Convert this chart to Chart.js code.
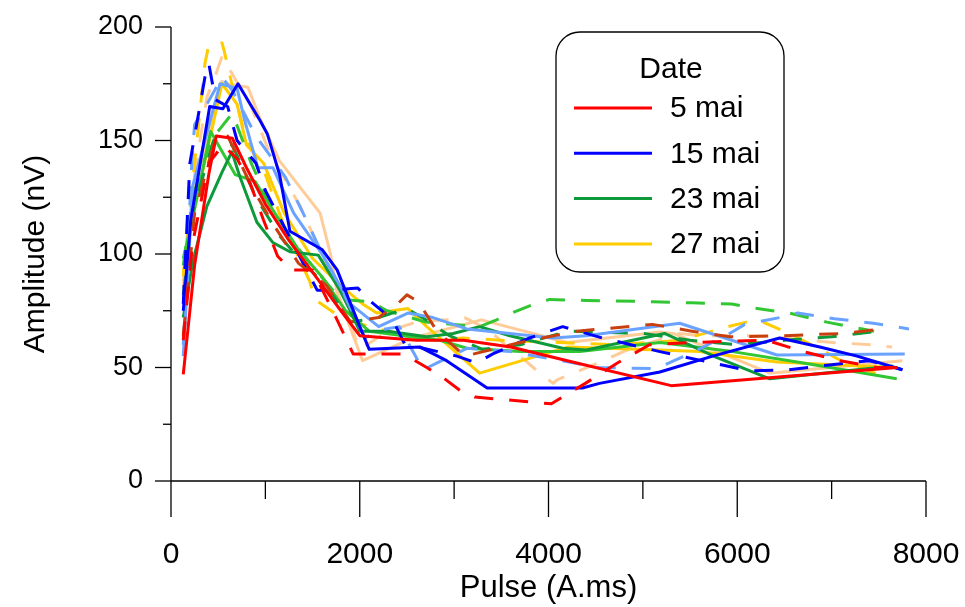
<!DOCTYPE html>
<html><head><meta charset="utf-8">
<script src="https://cdn.jsdelivr.net/npm/chart.js@4.4.1/dist/chart.umd.min.js"></script>
<style>html,body{margin:0;padding:0;background:#fff;overflow:hidden}#wrap{width:965px;height:607px;position:relative}</style>
</head><body><div id="wrap"><canvas id="c" width="965" height="607"></canvas></div>
<script>
// ---- tick labels ----
const xTickLabels = [0, 2000, 4000, 6000, 8000];
const xMinorTicks = [1000, 3000, 5000, 7000];
const yTickLabels = [0, 50, 100, 150, 200];
const yMinorTicks = [25, 75, 125, 175];

// ---- legend ----
const legendTitle = 'Date';
const dates = ['5 mai', '15 mai', '23 mai', '27 mai'];

// ---- 5 mai ----
const redSolidX = [130, 250, 400, 480, 650, 800, 1000, 1250, 1500, 1800, 2000, 2600, 3100, 3600, 4200, 5300, 6500, 7700];
const redSolidY = [47, 95, 135, 152, 151, 138, 122, 106, 92, 75, 64, 62, 62, 59, 53, 42, 46, 50];
const redDashX = [130, 230, 400, 550, 700, 840, 980, 1130, 1270, 1500, 1760, 1930, 2460, 2710, 2900, 3060, 3220, 4030, 4390, 4730, 5070, 5500, 6310, 6700, 7090, 7480, 7800];
const redDashY = [62, 105, 140, 148, 142, 131, 115, 99, 93, 93, 71, 56, 56, 50, 45, 40, 37, 34, 43, 52, 60, 61, 62, 57, 53, 50, 50];
const brownDashX = [130, 250, 450, 600, 850, 1100, 1350, 1650, 1900, 2200, 2400, 2500, 2620, 2818, 3114, 3400, 3697, 4300, 5100, 5520, 5920, 6500, 7120, 7530];
const brownDashY = [64, 118, 148, 152, 130, 112, 96, 86, 70, 72, 78, 82, 79, 66, 55, 58, 61, 66, 69, 66, 63.5, 64, 65, 67];

// ---- 15 mai ----
const blueSolidX = [130, 210, 410, 550, 710, 940, 1020, 1150, 1260, 1600, 1760, 1875, 2020, 2100, 2640, 2920, 3350, 4360, 4540, 5180, 5740, 6450, 6875, 7270, 7750];
const blueSolidY = [75, 115, 165, 164, 175, 159, 153, 135, 110, 102, 93, 81, 66, 58, 59, 53, 41, 41, 43, 48, 55, 63, 59, 55, 49];
const blueDashX = [130, 200, 360, 400, 470, 600, 700, 800, 900, 1000, 1200, 1400, 1550, 1680, 1980, 2090, 2350, 2480, 2620, 3030, 3240, 3410, 3800, 4150, 4570, 5180, 5740, 6130, 6540, 6950, 7400, 7750];
const blueDashY = [78, 140, 178, 184, 168, 165, 150, 145, 140, 128, 112, 96, 84, 84, 85, 80, 71, 60, 59, 55, 52, 56, 63, 68, 63, 57, 52, 48.5, 49, 51, 53, 49];
const lightBlueSolidX = [130, 230, 520, 700, 780, 860, 920, 1080, 1300, 1600, 1900, 2200, 2510, 2775, 3135, 4045, 4400, 5390, 6420, 7775];
const lightBlueSolidY = [55, 130, 175, 173, 159, 147, 138, 138, 118, 100, 78, 68, 74, 72, 67, 63, 64, 69.5, 55.5, 56];
const lightBlueDashX = [130, 220, 250, 340, 435, 540, 650, 900, 1210, 1400, 1580, 1800, 2055, 2215, 2420, 2670, 2820, 2990, 3140, 3600, 4270, 4530, 5140, 5520, 5920, 6080, 6450, 6640, 7030, 7440, 7820];
const lightBlueDashY = [60, 140, 157, 163, 170, 178, 172, 152, 134, 118, 102, 85, 63, 66.5, 68, 49, 52, 55.5, 58.5, 57, 52, 50, 49.5, 56.5, 65, 69, 72, 74, 71.5, 69.5, 67];

// ---- 23 mai ----
const darkGreenSolidX = [130, 233, 380, 540, 645, 730, 910, 1080, 1260, 1560, 1790, 1900, 2000, 2300, 2710, 2990, 3270, 3590, 4150, 4400, 5230, 5780, 6345, 7650];
const darkGreenSolidY = [72, 97, 121, 136, 145, 134, 114, 105, 101, 99.5, 84, 75, 66, 66, 63.5, 65, 68, 64, 58.5, 57.7, 65, 54.5, 45, 50.7];
const darkGreenDashX = [130, 240, 450, 650, 900, 1150, 1400, 1650, 1900, 2200, 2500, 2700, 2950, 3300, 3700, 4200, 5000, 5500, 6000, 6500, 7000, 7500];
const darkGreenDashY = [82, 120, 150, 148, 125, 108, 96, 86, 70, 72, 76, 71, 64, 58, 60, 66, 65, 62, 60, 62, 63.5, 66];
const lightGreenSolidX = [130, 250, 420, 680, 890, 1100, 1350, 1600, 1850, 2100, 2640, 2850, 3135, 3700, 4330, 5180, 5950, 6700, 7690];
const lightGreenSolidY = [98, 120, 154, 135, 132, 118, 102, 90, 75, 66, 63, 62, 58.5, 57, 57, 61, 57, 52, 45];
const lightGreenDashX = [130, 230, 420, 650, 850, 1050, 1300, 1550, 1800, 2110, 2290, 2700, 3270, 3450, 3640, 3820, 4010, 4400, 5100, 5520, 5940, 6130, 6550, 6950, 7450];
const lightGreenDashY = [95, 125, 150, 162, 140, 122, 105, 92, 80, 79, 75, 70, 68, 71, 74.5, 77.5, 80, 79.5, 79, 78.5, 78, 76.5, 74, 70, 66];

// ---- 27 mai ----
const goldSolidX = [130, 250, 540, 700, 800, 980, 1200, 1500, 1800, 2030, 2180, 2510, 2710, 3270, 4200, 5180, 5600, 6420, 7650];
const goldSolidY = [92, 120, 175, 166, 148, 140, 118, 98, 86, 78, 74, 76, 68, 47.5, 59, 57.7, 57, 52.4, 50];
const goldDashX = [130, 250, 360, 400, 540, 560, 650, 800, 1000, 1200, 1470, 1525, 1800, 2100, 2500, 2800, 3090, 3500, 4120, 4700, 5400, 5900, 6100, 6270, 6470, 6840, 7100, 7510];
const goldDashY = [90, 140, 184, 192, 193, 190, 174, 150, 135, 112, 88, 80, 72, 68, 64, 62, 63, 62, 61, 60, 62, 68, 70, 70, 66.5, 59, 53, 46.7];
const peachSolidX = [130, 250, 540, 590, 815, 940, 1150, 1580, 1690, 1760, 2030, 2560, 3290, 3560, 4200, 5180, 5320, 6345, 7750];
const peachSolidY = [85, 130, 176, 175, 173.5, 160, 141, 118, 100, 83, 53, 63, 71, 68, 61, 65.6, 65, 47.5, 53];
const peachDashX = [130, 250, 380, 465, 540, 625, 850, 1050, 1370, 1650, 2000, 2300, 2600, 2920, 3110, 3300, 3450, 3590, 3770, 3930, 4050, 4090, 4260, 4470, 4830, 5390, 5600, 6200, 6400, 7010, 7430, 7640];
const peachDashY = [88, 135, 169, 178, 187, 181, 165, 144, 121, 95, 58, 66, 70, 71, 72, 68, 63.5, 58, 52.5, 46.7, 43, 44.5, 47.5, 51, 57.7, 65, 64, 64, 63.4, 61, 60, 59];

// ---- styles ----
const C = {red:'#FF0000', brown:'#C8400F', blue:'#0000FF', lightBlue:'#6AA3FF', darkGreen:'#0E9A3A', lightGreen:'#33C633', gold:'#FFCC00', peach:'#FFCC99'};
const legendColors = [C.red, C.blue, C.darkGreen, C.gold];
const DASH = [19, 16];
const FONT = '"Liberation Sans", Arial, sans-serif';

function series(xs, ys, color, dashed) {
  return {
    data: xs.map((v, i) => ({x: v, y: ys[i]})),
    borderColor: color, backgroundColor: color,
    borderWidth: 3, borderDash: dashed ? DASH : [],
    pointRadius: 0, fill: false, tension: 0,
    borderCapStyle: 'butt', borderJoinStyle: 'round'
  };
}

const datasets = [
  series(redSolidX, redSolidY, C.red, false),
  series(redDashX, redDashY, C.red, true),
  series(brownDashX, brownDashY, C.brown, true),
  series(blueSolidX, blueSolidY, C.blue, false),
  series(blueDashX, blueDashY, C.blue, true),
  series(lightBlueSolidX, lightBlueSolidY, C.lightBlue, false),
  series(lightBlueDashX, lightBlueDashY, C.lightBlue, true),
  series(darkGreenSolidX, darkGreenSolidY, C.darkGreen, false),
  series(darkGreenDashX, darkGreenDashY, C.darkGreen, true),
  series(lightGreenSolidX, lightGreenSolidY, C.lightGreen, false),
  series(lightGreenDashX, lightGreenDashY, C.lightGreen, true),
  series(goldSolidX, goldSolidY, C.gold, false),
  series(goldDashX, goldDashY, C.gold, true),
  series(peachSolidX, peachSolidY, C.peach, false),
  series(peachDashX, peachDashY, C.peach, true)
];

// R-style axes: lines + major/minor tick marks, positioned by the scales
const rAxes = {
  id: 'rAxes',
  beforeDatasetsDraw(chart) {
    const {ctx, scales: {x, y}} = chart;
    const x0 = x.getPixelForValue(xTickLabels[0]);
    const x1 = x.getPixelForValue(xTickLabels[xTickLabels.length - 1]);
    const y0 = y.getPixelForValue(yTickLabels[0]);
    const y1 = y.getPixelForValue(yTickLabels[yTickLabels.length - 1]);
    ctx.save();
    ctx.strokeStyle = '#000';
    ctx.lineWidth = 1.3;
    const ln = (a, b, c, d) => { ctx.beginPath(); ctx.moveTo(a, b); ctx.lineTo(c, d); ctx.stroke(); };
    ln(x0, y1, x0, y0);
    ln(x0, y0, x1, y0);
    yTickLabels.forEach(v => { const p = y.getPixelForValue(v); ln(x0 - 16, p, x0, p); });
    yMinorTicks.forEach(v => { const p = y.getPixelForValue(v); ln(x0 - 8, p, x0, p); });
    xTickLabels.forEach(v => { const p = x.getPixelForValue(v); ln(p, y0, p, y0 + 36); });
    xMinorTicks.forEach(v => { const p = x.getPixelForValue(v); ln(p, y0, p, y0 + 18); });
    ctx.restore();
  }
};

// Boxed legend with rounded corners
const boxLegend = {
  id: 'boxLegend',
  afterDraw(chart) {
    const ctx = chart.ctx;
    const L = 556, T = 32, W = 228, H = 240, R = 24;
    ctx.save();
    ctx.fillStyle = '#fff';
    ctx.strokeStyle = '#000';
    ctx.lineWidth = 1.3;
    ctx.beginPath();
    ctx.moveTo(L + R, T);
    ctx.arcTo(L + W, T, L + W, T + H, R);
    ctx.arcTo(L + W, T + H, L, T + H, R);
    ctx.arcTo(L, T + H, L, T, R);
    ctx.arcTo(L, T, L + W, T, R);
    ctx.closePath();
    ctx.fill();
    ctx.stroke();
    ctx.fillStyle = '#000';
    ctx.font = '30px ' + FONT;
    ctx.textBaseline = 'middle';
    ctx.textAlign = 'center';
    ctx.fillText(legendTitle, 671, 70);
    ctx.textAlign = 'left';
    dates.forEach((d, i) => {
      const yy = 108 + i * 45.3;
      ctx.strokeStyle = legendColors[i];
      ctx.lineWidth = 3;
      ctx.beginPath(); ctx.moveTo(574, yy); ctx.lineTo(652, yy); ctx.stroke();
      ctx.fillStyle = '#000';
      ctx.fillText(d, 670, yy + 1);
    });
    ctx.restore();
  }
};

const zeroPad = s => { s.paddingLeft = 0; s.paddingRight = 0; s.paddingTop = 0; s.paddingBottom = 0; };

new Chart(document.getElementById('c'), {
  type: 'line',
  data: {datasets},
  plugins: [rAxes, boxLegend],
  options: {
    responsive: false, animation: false, devicePixelRatio: 1,
    layout: {padding: {top: 27, right: 39, left: 0, bottom: 0}},
    plugins: {legend: {display: false}, tooltip: {enabled: false}},
    scales: {
      x: {
        type: 'linear', min: 0, max: 8000,
        afterFit: s => { s.height = 126; zeroPad(s); },
        afterBuildTicks: s => { s.ticks = xTickLabels.map(v => ({value: v})); },
        ticks: {autoSkip: false, maxRotation: 0, padding: 56, color: '#000', font: {family: FONT, size: 30}, callback: v => String(v)},
        grid: {display: false, drawTicks: false},
        border: {display: false},
        title: {display: true, text: 'Pulse (A.ms)', color: '#000', font: {family: FONT, size: 31}, padding: {top: 0, bottom: 0}}
      },
      y: {
        min: 0, max: 200,
        afterFit: s => { s.width = 171; zeroPad(s); },
        afterBuildTicks: s => { s.ticks = yTickLabels.map(v => ({value: v})); },
        ticks: {padding: 28, color: '#000', font: {family: FONT, size: 27}, callback: v => String(v)},
        grid: {display: false, drawTicks: false},
        border: {display: false},
        title: {display: true, text: 'Amplitude (nV)', color: '#000', font: {family: FONT, size: 30}, padding: {top: 18, bottom: 0}}
      }
    }
  }
});
</script>
</body></html>
